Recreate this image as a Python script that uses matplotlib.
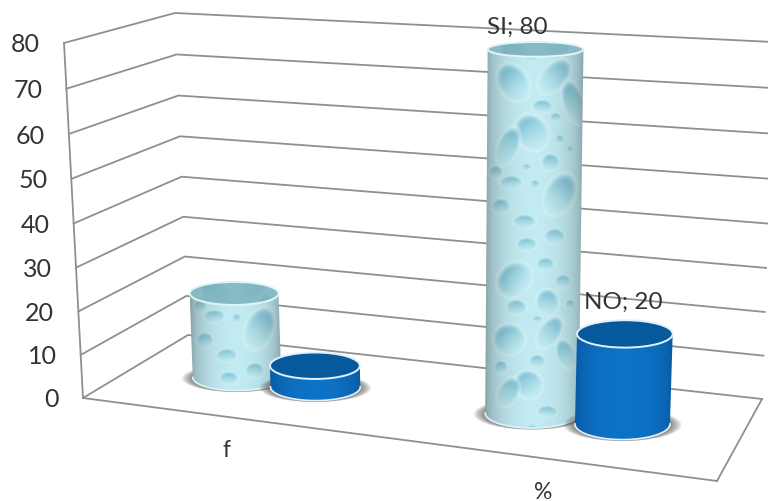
import numpy as np
import matplotlib
matplotlib.use("Agg")
import matplotlib.pyplot as plt
from matplotlib.patches import Ellipse, Polygon

plt.rcParams['font.family'] = ['Lato', 'DejaVu Sans']

# data
categories = ['f', '%']
si_values = [20, 80]
no_values = [5, 20]
y_ticks = [0, 10, 20, 30, 40, 50, 60, 70, 80]
label_values = [False, True]

# outline of the 3d box in picture pixels: front left, front right, back right, back left
floor_quad = [(83, 399), (717, 482), (762, 400), (188, 336)]
top_quad = [(64, 44), (744, 84), (773, 43), (175, 14)]
y_max = 80

# water drops of the texture: x, y, radius x, radius y, tilt (px on a 96 px wide cylinder)
drops = [(27, 33, 13, 18, -30), (67, 27, 11, 18, 40), (85, 53, 9, 20, -15), (45, 83, 14, 17, -30),
         (22, 97, 9, 18, 20), (55, 57, 9, 6, 0), (63, 113, 8, 8, 0), (25, 133, 10, 6, 0),
         (72, 145, 13, 20, 25), (15, 157, 8, 7, 0), (38, 172, 10, 6, 0), (10, 123, 6, 6, 0),
         (28, 230, 17, 14, -50), (58, 215, 8, 6, 0), (40, 195, 9, 6, 0), (67, 187, 9, 7, 0),
         (75, 232, 7, 6, 0), (60, 253, 10, 12, 0), (30, 258, 9, 7, 0), (23, 290, 14, 14, -30),
         (62, 283, 9, 16, 35), (78, 305, 8, 14, -20), (50, 312, 7, 6, 0), (42, 335, 12, 13, -30),
         (22, 343, 9, 14, 25), (60, 362, 9, 5, 0), (15, 318, 6, 6, 0), (45, 8, 6, 4, 0),
         (48, 135, 4, 4, 0), (72, 90, 4, 4, 0), (82, 100, 3, 3, 0), (40, 118, 4, 3, 0),
         (68, 68, 5, 4, 0), (50, 270, 4, 3, 0), (82, 255, 4, 4, 0)]
tile_height = 372


def square_to_quad(q):
    # homography from the unit square to 4 points
    A = []
    b = []
    for (u, v), (x, y) in zip([(0, 0), (1, 0), (1, 1), (0, 1)], q):
        A.append([u, v, 1, 0, 0, 0, -u * x, -v * x])
        A.append([0, 0, 0, u, v, 1, -u * y, -v * y])
        b += [x, y]
    return np.append(np.linalg.solve(np.array(A, float), np.array(b, float)), 1).reshape(3, 3)


H_floor = square_to_quad(floor_quad)
H_top = square_to_quad(top_quad)


def apply(H, u, v):
    p = H @ np.array([u, v, 1.0])
    return p[:2] / p[2]


def project(u, v, value):
    # u along the categories, v into the depth, value up the wall
    p0 = apply(H_floor, u, v)
    p1 = apply(H_top, u, v)
    k = 0.033  # tick spacing grows a little going up
    f = value / y_max
    return p0 + (p1 - p0) * f * (1 - k) / (1 - k * f)


def water_texture(w, h, offset):
    w = int(np.ceil(w))
    h = int(np.ceil(h))
    xx, yy = np.meshgrid(np.arange(w) * 96 / w, np.arange(h) + offset)
    yy = yy % tile_height
    img = np.ones((h, w, 3)) * np.array([0.76, 0.92, 0.95])
    dark = np.array([0.45, 0.73, 0.82])
    light = np.array([0.78, 0.94, 0.96])
    for dx, dy, rx, ry, tilt in drops:
        t = np.radians(tilt)
        x = xx - dx
        y = yy - dy
        nx = (x * np.cos(t) + y * np.sin(t)) / (rx * 1.1)
        ny = (-x * np.sin(t) + y * np.cos(t)) / (ry * 1.1)
        r2 = nx ** 2 + ny ** 2
        mix = np.clip((ny + 1) / 2, 0, 1)[..., None]
        alpha = np.clip((1 - r2) * 1.8, 0, 1)[..., None] * (1 - 0.5 * mix)
        col = dark * (1 - mix) + light * mix
        img = img * (1 - alpha) + col * alpha
        # white rim round each drop
        rim = np.clip(1 - np.abs(r2 - 1.1) * 3.5, 0, 1)[..., None] * 0.45
        img = img * (1 - rim) + np.array([0.90, 0.98, 0.98]) * rim
    # slight blur, the reference is soft
    for axis in (0, 1):
        img = (np.roll(img, 1, axis) + img * 2 + np.roll(img, -1, axis)) / 4
    return img


def cylinder_shade(w):
    s = np.linspace(-1, 1, int(np.ceil(w)))
    return np.sqrt(1 - s ** 2 * 0.98)


def ellipse_points(c, a, b, start, end):
    t = np.radians(np.linspace(start, end, 60))
    return np.column_stack([c[0] + a * np.cos(t), c[1] + b * np.sin(t)])


def half_width(u, rad_u, depth, value):
    a = abs(project(u + rad_u, depth, value)[0] - project(u - rad_u, depth, value)[0]) / 2
    # the bars change less with the distance than the box does
    return 47 + (a - 47) * 0.4


def draw_cylinder(ax, u, value, kind, z):
    rad_u = 0.073
    rad_v = 0.2
    depth = 0.49
    base = project(u, depth, 0)
    top = project(u, depth, value)
    a0 = half_width(u, rad_u, depth, 0)
    b0 = abs(project(u, depth - rad_v, 0)[1] - project(u, depth + rad_v, 0)[1]) / 2
    a1 = half_width(u, rad_u, depth, value)
    b1 = abs(project(u, depth - rad_v, value)[1] - project(u, depth + rad_v, value)[1]) / 2

    # soft shadow on the floor
    for s in np.linspace(1.24, 1.0, 8):
        ax.add_patch(Ellipse(base + np.array([0, 1]), 2 * a0 * s, 2 * b0 * (0.85 + 0.15 * s),
                             fc='#4a4a4a', ec='none', alpha=0.12, zorder=z))

    side = np.vstack([[top[0] - a1, top[1]], ellipse_points(base, a0, b0, 180, 0), [top[0] + a1, top[1]]])
    x0, x1 = side[:, 0].min(), side[:, 0].max()
    y0, y1 = side[:, 1].min(), side[:, 1].max()
    w = x1 - x0
    side_patch = Polygon(side, closed=True, fc='none', ec='none', zorder=z + 1)
    ax.add_patch(side_patch)
    cap = Ellipse(top, 2 * a1, 2 * b1, fc='none', ec='none', zorder=z + 3)
    ax.add_patch(cap)

    if kind == 'SI':
        tex = water_texture(w, y1 - y0, 0 if value > 50 else 110)
        shade = (0.62 + 0.38 * cylinder_shade(w))[None, :, None]
        side_img = tex * shade
        flat = np.array([0.53, 0.73, 0.77])
        cap_img = water_texture(w, 2 * b1 + 1, 20) * np.array([0.70, 0.80, 0.82]) * 0.3 + flat * 0.7
        rim_color = '#dff5f8'
    else:
        s = cylinder_shade(w)
        edge = np.array([0.03, 0.33, 0.60])
        mid = np.array([0.05, 0.45, 0.78])
        side_img = (edge + (mid - edge) * s[..., None])[None, :, :]
        cap_img = np.ones((2, 2, 3)) * np.array([0.03, 0.35, 0.62])
        rim_color = '#e3f0fa'

    im = ax.imshow(side_img, extent=(x0, x1, y1, y0), aspect='auto', zorder=z + 2, interpolation='bilinear')
    im.set_clip_path(side_patch)
    im2 = ax.imshow(cap_img, extent=(top[0] - a1, top[0] + a1, top[1] + b1, top[1] - b1), aspect='auto',
                    zorder=z + 3, interpolation='bilinear')
    im2.set_clip_path(cap)

    ax.add_patch(Ellipse(top, 2 * a1, 2 * b1, fc='none', ec=rim_color, lw=1.4, zorder=z + 4))
    low = ellipse_points(base, a0, b0, 180, 0)
    ax.plot(low[:, 0], low[:, 1], color=rim_color, lw=1.2, zorder=z + 4)
    return top


fig = plt.figure(figsize=(7.68, 5.02), dpi=100)
ax = fig.add_axes([0, 0, 1, 1])

grid_color = '#8f8f8f'
for tick in y_ticks:
    pts = np.array([project(0, 0, tick), project(0, 1, tick), project(1, 1, tick)])
    ax.plot(pts[:, 0], pts[:, 1], color=grid_color, lw=1.3, zorder=1, solid_joinstyle='miter')
    p = project(0, 0, tick)
    ax.text(p[0] - 24, p[1] + 1, str(tick), ha='right', va='center', fontsize=18, color='#333333')

# left edge and front of the floor
for a, b in [(project(0, 0, 0), project(0, 0, y_max)), (project(0, 0, 0), project(1, 0, 0)),
             (project(1, 0, 0), project(1, 1, 0))]:
    ax.plot([a[0], b[0]], [a[1], b[1]], color=grid_color, lw=1.3, zorder=1)

n = len(categories)
offset = 0.07
for i, cat in enumerate(categories):
    center = (i + 0.5) / n + 0.006
    top_si = draw_cylinder(ax, center - offset, si_values[i], 'SI', 10 + 10 * i)
    top_no = draw_cylinder(ax, center + offset, no_values[i], 'NO', 15 + 10 * i)
    front = project(center, 0, 0)
    ax.text(front[0] - 1, front[1] + 33, cat, ha='center', va='center', fontsize=16.5, color='#333333')
    if label_values[i]:
        ax.text(top_si[0] - 18, top_si[1] - 23, 'SI; %d' % si_values[i], ha='center', va='center',
                fontsize=17.5, color='#333333', zorder=40)
        ax.text(top_no[0] - 2, top_no[1] - 33, 'NO; %d' % no_values[i], ha='center', va='center',
                fontsize=17.5, color='#333333', zorder=40)

ax.set_xlim(0, 768)
ax.set_ylim(502, 0)
ax.axis('off')
fig.savefig('out.png', dpi=100)
